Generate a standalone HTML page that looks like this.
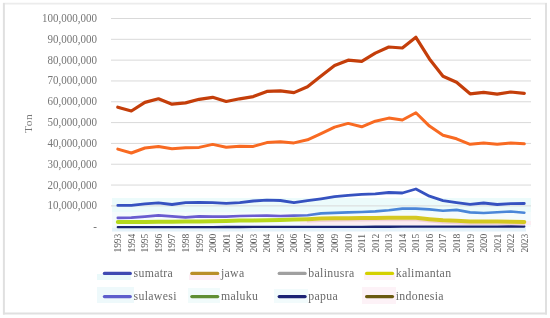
<!DOCTYPE html>
<html><head><meta charset="utf-8"><style>
html,body{margin:0;padding:0;background:#fff;}
svg{display:block;filter:blur(0.35px);}
text{font-family:"Liberation Serif",serif;fill:#777;}
.yl{font-size:11px;}
.xl{font-size:9.3px;fill:#606060;}
.tt{font-size:11.4px;letter-spacing:0.6px;}
.lg{font-size:11.8px;letter-spacing:0.33px;fill:#6a6a6a;}
</style></head><body>
<svg width="550" height="318" viewBox="0 0 550 318">
<defs>
<linearGradient id="gs" gradientUnits="userSpaceOnUse" x1="110" y1="0" x2="531" y2="0">
<stop offset="0" stop-color="#6a5cd0"/><stop offset="0.42" stop-color="#6a5cd0"/><stop offset="0.5" stop-color="#4a86d8"/><stop offset="1" stop-color="#4a86d8"/></linearGradient>
<linearGradient id="gk" gradientUnits="userSpaceOnUse" x1="110" y1="0" x2="531" y2="0">
<stop offset="0" stop-color="#b4d81c"/><stop offset="0.42" stop-color="#b8d81c"/><stop offset="0.5" stop-color="#d4c820"/><stop offset="1" stop-color="#d4c820"/></linearGradient>
</defs>
<line x1="3" y1="3.6" x2="547" y2="3.6" stroke="#ececec" stroke-width="1.8"/>
<line x1="3.9" y1="3" x2="3.9" y2="314.5" stroke="#e0e0e0" stroke-width="2"/>
<line x1="546" y1="3" x2="546" y2="314.5" stroke="#e0e0e0" stroke-width="2"/>
<line x1="3" y1="313.5" x2="547" y2="313.5" stroke="#e0e0e0" stroke-width="2"/>
<rect x="112" y="198" width="419" height="14" fill="#ecfbfb"/>
<rect x="112" y="212" width="419" height="15" fill="#f5fbfc"/>
<rect x="300" y="221" width="231" height="4" fill="#fcedf2"/>
<rect x="112" y="227.5" width="414" height="4" fill="#e4f2fa"/>
<line x1="111" y1="205.88" x2="531" y2="205.88" stroke="#d9d9d9" stroke-width="1"/>
<line x1="111" y1="185.06" x2="531" y2="185.06" stroke="#d9d9d9" stroke-width="1"/>
<line x1="111" y1="164.24" x2="531" y2="164.24" stroke="#d9d9d9" stroke-width="1"/>
<line x1="111" y1="143.42" x2="531" y2="143.42" stroke="#d9d9d9" stroke-width="1"/>
<line x1="111" y1="122.60" x2="531" y2="122.60" stroke="#d9d9d9" stroke-width="1"/>
<line x1="111" y1="101.78" x2="531" y2="101.78" stroke="#d9d9d9" stroke-width="1"/>
<line x1="111" y1="80.96" x2="531" y2="80.96" stroke="#d9d9d9" stroke-width="1"/>
<line x1="111" y1="60.14" x2="531" y2="60.14" stroke="#d9d9d9" stroke-width="1"/>
<line x1="111" y1="39.32" x2="531" y2="39.32" stroke="#d9d9d9" stroke-width="1"/>
<line x1="111" y1="18.50" x2="531" y2="18.50" stroke="#d9d9d9" stroke-width="1"/>
<text transform="translate(97,231.40) scale(1,1.13)" text-anchor="end" class="yl">-</text>
<text transform="translate(97,209.38) scale(1,1.13)" text-anchor="end" class="yl">10,000,000</text>
<text transform="translate(97,188.56) scale(1,1.13)" text-anchor="end" class="yl">20,000,000</text>
<text transform="translate(97,167.74) scale(1,1.13)" text-anchor="end" class="yl">30,000,000</text>
<text transform="translate(97,146.92) scale(1,1.13)" text-anchor="end" class="yl">40,000,000</text>
<text transform="translate(97,126.10) scale(1,1.13)" text-anchor="end" class="yl">50,000,000</text>
<text transform="translate(97,105.28) scale(1,1.13)" text-anchor="end" class="yl">60,000,000</text>
<text transform="translate(97,84.46) scale(1,1.13)" text-anchor="end" class="yl">70,000,000</text>
<text transform="translate(97,63.64) scale(1,1.13)" text-anchor="end" class="yl">80,000,000</text>
<text transform="translate(97,42.82) scale(1,1.13)" text-anchor="end" class="yl">90,000,000</text>
<text transform="translate(97,22.00) scale(1,1.13)" text-anchor="end" class="yl">100,000,000</text>
<text transform="translate(32.2,123.3) rotate(-90)" text-anchor="middle" class="tt">Ton</text>
<text transform="translate(121.20,252.6) rotate(-90) scale(1.02,1.08)" class="xl">1993</text>
<text transform="translate(134.75,252.6) rotate(-90) scale(1.02,1.08)" class="xl">1994</text>
<text transform="translate(148.30,252.6) rotate(-90) scale(1.02,1.08)" class="xl">1995</text>
<text transform="translate(161.85,252.6) rotate(-90) scale(1.02,1.08)" class="xl">1996</text>
<text transform="translate(175.40,252.6) rotate(-90) scale(1.02,1.08)" class="xl">1997</text>
<text transform="translate(188.95,252.6) rotate(-90) scale(1.02,1.08)" class="xl">1998</text>
<text transform="translate(202.50,252.6) rotate(-90) scale(1.02,1.08)" class="xl">1999</text>
<text transform="translate(216.05,252.6) rotate(-90) scale(1.02,1.08)" class="xl">2000</text>
<text transform="translate(229.60,252.6) rotate(-90) scale(1.02,1.08)" class="xl">2001</text>
<text transform="translate(243.15,252.6) rotate(-90) scale(1.02,1.08)" class="xl">2002</text>
<text transform="translate(256.70,252.6) rotate(-90) scale(1.02,1.08)" class="xl">2003</text>
<text transform="translate(270.25,252.6) rotate(-90) scale(1.02,1.08)" class="xl">2004</text>
<text transform="translate(283.80,252.6) rotate(-90) scale(1.02,1.08)" class="xl">2005</text>
<text transform="translate(297.35,252.6) rotate(-90) scale(1.02,1.08)" class="xl">2006</text>
<text transform="translate(310.90,252.6) rotate(-90) scale(1.02,1.08)" class="xl">2007</text>
<text transform="translate(324.45,252.6) rotate(-90) scale(1.02,1.08)" class="xl">2008</text>
<text transform="translate(338.00,252.6) rotate(-90) scale(1.02,1.08)" class="xl">2009</text>
<text transform="translate(351.55,252.6) rotate(-90) scale(1.02,1.08)" class="xl">2010</text>
<text transform="translate(365.10,252.6) rotate(-90) scale(1.02,1.08)" class="xl">2011</text>
<text transform="translate(378.65,252.6) rotate(-90) scale(1.02,1.08)" class="xl">2012</text>
<text transform="translate(392.20,252.6) rotate(-90) scale(1.02,1.08)" class="xl">2013</text>
<text transform="translate(405.75,252.6) rotate(-90) scale(1.02,1.08)" class="xl">2014</text>
<text transform="translate(419.30,252.6) rotate(-90) scale(1.02,1.08)" class="xl">2015</text>
<text transform="translate(432.85,252.6) rotate(-90) scale(1.02,1.08)" class="xl">2016</text>
<text transform="translate(446.40,252.6) rotate(-90) scale(1.02,1.08)" class="xl">2017</text>
<text transform="translate(459.95,252.6) rotate(-90) scale(1.02,1.08)" class="xl">2018</text>
<text transform="translate(473.50,252.6) rotate(-90) scale(1.02,1.08)" class="xl">2019</text>
<text transform="translate(487.05,252.6) rotate(-90) scale(1.02,1.08)" class="xl">2020</text>
<text transform="translate(500.60,252.6) rotate(-90) scale(1.02,1.08)" class="xl">2021</text>
<text transform="translate(514.15,252.6) rotate(-90) scale(1.02,1.08)" class="xl">2022</text>
<text transform="translate(527.70,252.6) rotate(-90) scale(1.02,1.08)" class="xl">2023</text>
<polyline points="117.80,227.20 131.35,227.18 144.90,227.15 158.45,227.13 172.00,227.11 185.55,227.08 199.10,227.06 212.65,227.04 226.20,227.01 239.75,226.99 253.30,226.97 266.85,226.94 280.40,226.92 293.95,226.90 307.50,226.87 321.05,226.85 334.60,226.83 348.15,226.80 361.70,226.78 375.25,226.76 388.80,226.73 402.35,226.71 415.90,226.69 429.45,226.66 443.00,226.64 456.55,226.62 470.10,226.59 483.65,226.57 497.20,226.55 510.75,226.52 524.30,226.50" fill="none" stroke="#1a2372" stroke-width="2.3" stroke-linejoin="round" stroke-linecap="round"/>
<polyline points="307.50,221.80 321.05,221.20 334.60,220.90 348.15,220.80 361.70,220.60 375.25,220.50 388.80,220.40 402.35,220.40 415.90,220.40 429.45,221.80 443.00,222.90 456.55,223.40 470.10,224.10 483.65,224.00 497.20,224.20 510.75,224.30 524.30,224.60" fill="none" stroke="#f0d0d8" stroke-width="1.6" stroke-linejoin="round" stroke-linecap="round"/>
<polyline points="117.80,222.10 131.35,222.04 144.90,221.88 158.45,221.71 172.00,221.65 185.55,221.59 199.10,221.43 212.65,221.26 226.20,221.00 239.75,220.60 253.30,220.40 266.85,220.20 280.40,220.00 293.95,219.60 307.50,219.20 321.05,218.60 334.60,218.30 348.15,218.20 361.70,218.00 375.25,217.90 388.80,217.80 402.35,217.80 415.90,217.80 429.45,219.20 443.00,220.30 456.55,220.80 470.10,221.50 483.65,221.40 497.20,221.60 510.75,221.70 524.30,222.00" fill="none" stroke="url(#gk)" stroke-width="4.0" stroke-linejoin="round" stroke-linecap="round"/>
<polyline points="117.80,217.90 131.35,217.60 144.90,216.60 158.45,215.40 172.00,216.40 185.55,217.40 199.10,216.40 212.65,216.60 226.20,216.60 239.75,216.00 253.30,215.80 266.85,215.60 280.40,216.00 293.95,215.60 307.50,215.20 321.05,213.40 334.60,212.90 348.15,212.40 361.70,212.00 375.25,211.40 388.80,210.20 402.35,208.60 415.90,208.60 429.45,209.40 443.00,210.70 456.55,209.90 470.10,212.40 483.65,213.00 497.20,212.30 510.75,211.50 524.30,212.70" fill="none" stroke="url(#gs)" stroke-width="2.6" stroke-linejoin="round" stroke-linecap="round"/>
<polyline points="117.80,205.40 131.35,205.40 144.90,203.80 158.45,202.90 172.00,204.50 185.55,202.60 199.10,202.40 212.65,202.60 226.20,203.30 239.75,202.60 253.30,201.00 266.85,200.10 280.40,200.50 293.95,202.60 307.50,200.60 321.05,198.80 334.60,196.70 348.15,195.40 361.70,194.30 375.25,193.80 388.80,192.50 402.35,193.00 415.90,189.00 429.45,196.20 443.00,200.60 456.55,202.60 470.10,204.40 483.65,203.00 497.20,204.50 510.75,203.70 524.30,203.50" fill="none" stroke="#3652c0" stroke-width="2.8" stroke-linejoin="round" stroke-linecap="round"/>
<polyline points="117.80,149.10 131.35,153.00 144.90,148.00 158.45,146.60 172.00,148.80 185.55,147.80 199.10,147.40 212.65,144.40 226.20,147.20 239.75,146.20 253.30,146.40 266.85,142.60 280.40,141.80 293.95,142.90 307.50,139.80 321.05,133.60 334.60,127.10 348.15,123.40 361.70,126.80 375.25,121.20 388.80,118.10 402.35,120.00 415.90,112.80 429.45,126.10 443.00,135.20 456.55,138.80 470.10,144.30 483.65,143.00 497.20,144.20 510.75,143.00 524.30,143.80" fill="none" stroke="#f86a22" stroke-width="3.0" stroke-linejoin="round" stroke-linecap="round"/>
<polyline points="117.80,107.20 131.35,111.00 144.90,102.40 158.45,98.80 172.00,104.20 185.55,102.90 199.10,99.30 212.65,97.30 226.20,101.50 239.75,98.80 253.30,96.60 266.85,91.40 280.40,90.80 293.95,92.60 307.50,86.80 321.05,76.00 334.60,65.60 348.15,60.20 361.70,61.40 375.25,53.10 388.80,47.00 402.35,48.00 415.90,37.30 429.45,58.90 443.00,76.30 456.55,82.30 470.10,93.80 483.65,92.40 497.20,94.10 510.75,92.00 524.30,93.30" fill="none" stroke="#c43e0a" stroke-width="3.2" stroke-linejoin="round" stroke-linecap="round"/>
<rect x="97" y="274" width="34" height="6" fill="#eaf9fa"/>
<rect x="189" y="274.5" width="31" height="5.5" fill="#fdeef4"/>
<rect x="97" y="287" width="37" height="16" fill="#eef9fb"/>
<rect x="274" y="289" width="34" height="14" fill="#f2fbfc"/>
<rect x="188" y="288" width="32" height="15" fill="#f1fbfb"/>
<rect x="364" y="273" width="31" height="7" fill="#fdf1f5"/>
<rect x="362" y="287" width="34" height="17" fill="#fdf2f7"/>
<line x1="104.40" y1="273.40" x2="130.30" y2="273.40" stroke="#3f4ab2" stroke-width="3.2" stroke-linecap="round"/>
<text x="133.50" y="276.60" class="lg">sumatra</text>
<line x1="191.80" y1="273.40" x2="217.70" y2="273.40" stroke="#b98f28" stroke-width="3.2" stroke-linecap="round"/>
<text x="220.90" y="276.60" class="lg">jawa</text>
<line x1="279.20" y1="273.40" x2="305.10" y2="273.40" stroke="#a0a0a0" stroke-width="3.2" stroke-linecap="round"/>
<text x="308.30" y="276.60" class="lg">balinusra</text>
<line x1="366.60" y1="273.40" x2="392.50" y2="273.40" stroke="#d4d000" stroke-width="3.2" stroke-linecap="round"/>
<text x="395.70" y="276.60" class="lg">kalimantan</text>
<line x1="104.40" y1="296.60" x2="130.30" y2="296.60" stroke="#5e5ecc" stroke-width="3.2" stroke-linecap="round"/>
<text x="133.50" y="299.80" class="lg">sulawesi</text>
<line x1="191.80" y1="296.60" x2="217.70" y2="296.60" stroke="#5f8f33" stroke-width="3.2" stroke-linecap="round"/>
<text x="220.90" y="299.80" class="lg">maluku</text>
<line x1="279.20" y1="296.60" x2="305.10" y2="296.60" stroke="#1c2274" stroke-width="3.2" stroke-linecap="round"/>
<text x="308.30" y="299.80" class="lg">papua</text>
<line x1="366.60" y1="296.60" x2="392.50" y2="296.60" stroke="#6b5a10" stroke-width="3.2" stroke-linecap="round"/>
<text x="395.70" y="299.80" class="lg">indonesia</text>
</svg>
</body></html>
